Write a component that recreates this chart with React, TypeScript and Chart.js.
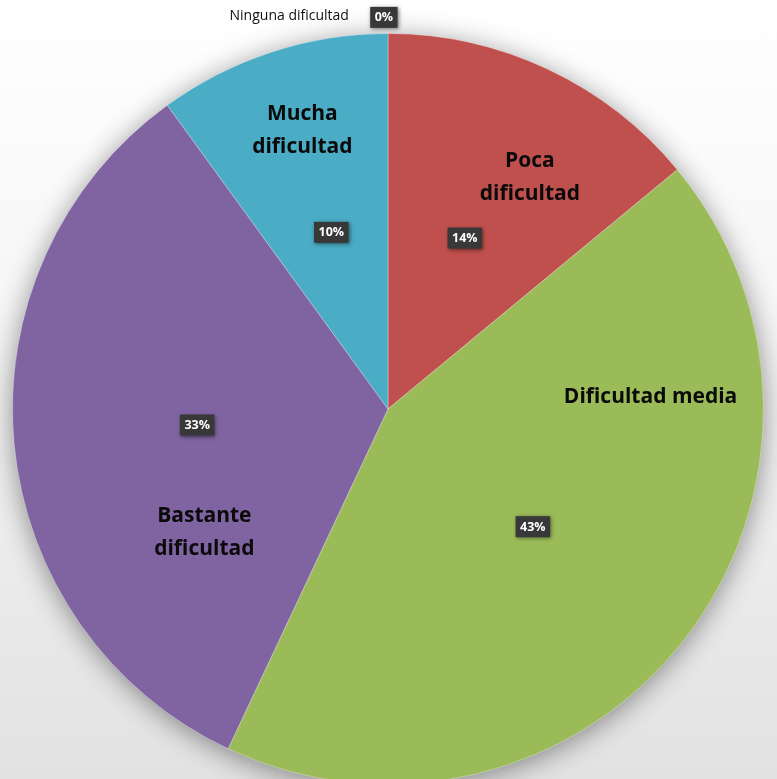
import React, { useEffect, useRef } from "react";
import { Chart, registerables } from "chart.js";

Chart.register(...registerables);

// ---- data ----
const categories = [
  "Ninguna dificultad",
  "Poca dificultad",
  "Dificultad media",
  "Bastante dificultad",
  "Mucha dificultad",
];
const values = [0, 14, 43, 33, 10];
const pctLabels = ["0%", "14%", "43%", "33%", "10%"];
const nameLines = [
  ["Ninguna dificultad"],
  ["Poca", "dificultad"],
  ["Dificultad media"],
  ["Bastante", "dificultad"],
  ["Mucha", "dificultad"],
];
const colors = ["#f79646", "#c0504d", "#9bbb59", "#8064a2", "#4bacc6"];

// ---- label layout (polar, relative to each slice's mid angle) ----
const nameLayout = [
  { r: 1.08, da: -14.1 },
  { r: 0.723, da: 6.3 },
  { r: 0.7, da: -40.4 },
  { r: 0.59, da: -28.6 },
  { r: 0.776, da: 0.9 },
];
const pctLayout = [
  { r: 1.043, da: -0.6 },
  { r: 0.499, da: -1.0 },
  { r: 0.497, da: 1.3 },
  { r: 0.51, da: 0.6 },
  { r: 0.494, da: 0.2 },
];

const FONT = '"Open Sans", "Noto Sans", sans-serif';

const shadowPlugin = {
  id: "pieShadow",
  beforeDatasetsDraw(chart: any) {
    const meta = chart.getDatasetMeta(0);
    const el = meta.data[1];
    if (!el) return;
    const { x, y, outerRadius } = el.getProps(["x", "y", "outerRadius"], true);
    const ctx = chart.ctx;
    ctx.save();
    ctx.shadowColor = "rgba(0,0,0,0.45)";
    ctx.shadowBlur = 28;
    ctx.shadowOffsetY = 4;
    ctx.fillStyle = "#aaaaaa";
    ctx.beginPath();
    ctx.arc(x, y, outerRadius - 1, 0, Math.PI * 2);
    ctx.fill();
    ctx.restore();
  },
};

const labelPlugin = {
  id: "sliceLabels",
  afterDatasetsDraw(chart: any) {
    const meta = chart.getDatasetMeta(0);
    const ctx = chart.ctx;
    meta.data.forEach((el: any, i: number) => {
      const { x, y, startAngle, endAngle, outerRadius } = el.getProps(
        ["x", "y", "startAngle", "endAngle", "outerRadius"],
        true
      );
      const mid = (startAngle + endAngle) / 2;
      // name
      const nl = nameLayout[i];
      const na = mid + (nl.da * Math.PI) / 180;
      const nx = x + Math.cos(na) * outerRadius * nl.r;
      const ny = y + Math.sin(na) * outerRadius * nl.r;
      ctx.save();
      ctx.textAlign = "center";
      ctx.textBaseline = "middle";
      if (i === 0) {
        ctx.font = `500 14px ${FONT}`;
        ctx.fillStyle = "#111111";
        ctx.fillText(nameLines[i][0], nx, ny);
      } else {
        ctx.font = `700 21px ${FONT}`;
        ctx.fillStyle = "#0a0a0a";
        const lines = nameLines[i];
        const lh = 33;
        lines.forEach((t, k) => {
          ctx.fillText(t, nx, ny + (k - (lines.length - 1) / 2) * lh);
        });
      }
      ctx.restore();

      // percentage box
      const pl = pctLayout[i];
      const pa = mid + (pl.da * Math.PI) / 180;
      const px = x + Math.cos(pa) * outerRadius * pl.r;
      const py = y + Math.sin(pa) * outerRadius * pl.r;
      ctx.save();
      ctx.font = `700 12.5px ${FONT}`;
      const w = ctx.measureText(pctLabels[i]).width + 9;
      const h = 21;
      ctx.shadowColor = "rgba(0,0,0,0.5)";
      ctx.shadowBlur = 4;
      ctx.shadowOffsetX = 1;
      ctx.shadowOffsetY = 1;
      ctx.fillStyle = "#383838";
      ctx.fillRect(px - w / 2, py - h / 2, w, h);
      ctx.shadowColor = "transparent";
      ctx.fillStyle = "#ffffff";
      ctx.textAlign = "center";
      ctx.textBaseline = "middle";
      ctx.fillText(pctLabels[i], px, py + 0.5);
      ctx.restore();
    });
  },
};

export default function App() {
  const ref = useRef<HTMLCanvasElement | null>(null);
  useEffect(() => {
    if (!ref.current) return;
    const chart = new Chart(ref.current, {
      type: "pie",
      data: {
        labels: categories,
        datasets: [
          {
            data: values,
            backgroundColor: colors,
            borderColor: "rgba(255,255,255,0.3)",
            borderWidth: 1,
          },
        ],
      },
      options: {
        responsive: false,
        animation: false,
        devicePixelRatio: 1,
        layout: { padding: { left: 12, right: 13, top: 33, bottom: 15 } },
        plugins: {
          legend: { display: false },
          tooltip: { enabled: false },
          title: { display: false },
        },
      },
      plugins: [shadowPlugin, labelPlugin],
    });
    return () => chart.destroy();
  }, []);

  return (
    <div
      style={{
        position: "fixed",
        left: 0,
        top: 0,
        width: 777,
        height: 779,
        overflow: "hidden",
        background:
          "linear-gradient(to bottom, #ffffff 0%, #f7f7f7 35%, #ececec 70%, #e2e2e2 100%)",
      }}
    >
      <canvas ref={ref} width={777} height={800} style={{ display: "block" }} />
    </div>
  );
}
